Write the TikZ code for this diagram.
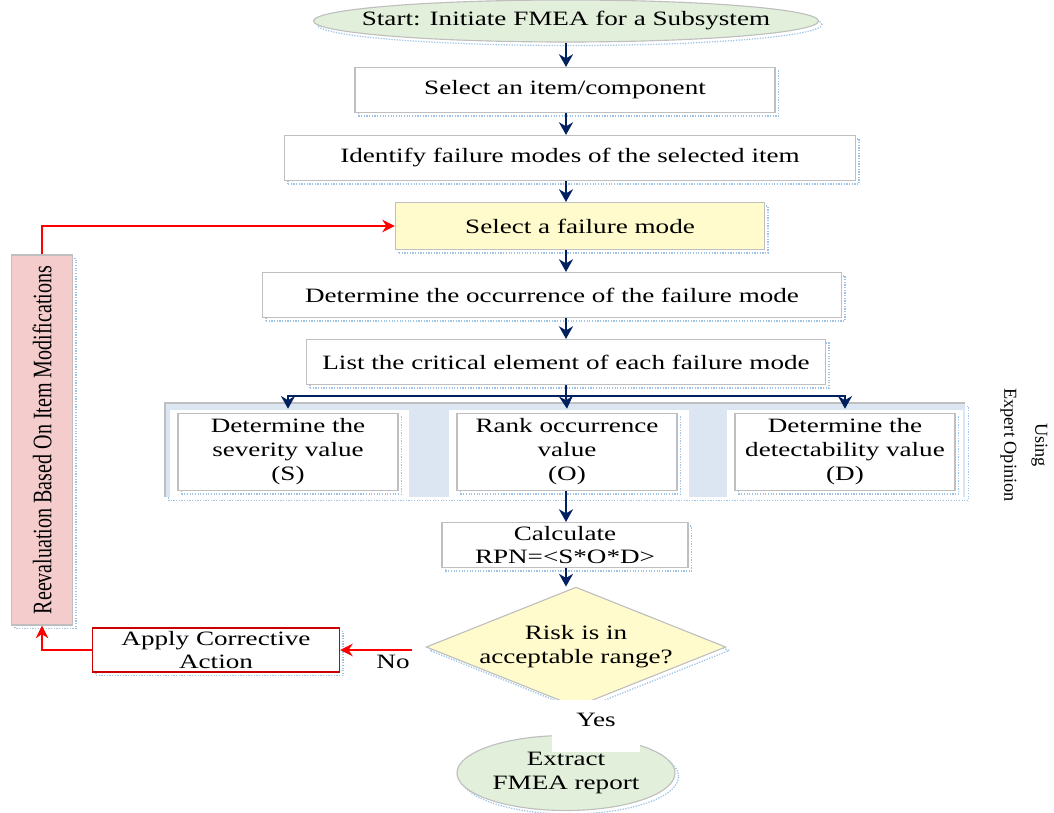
\documentclass[tikz,border=0pt]{standalone}
\usepackage{fontspec}
\setmainfont{Liberation Serif}[FakeStretch=1.33]
\newfontfamily\narrowfont{Liberation Serif}[FakeStretch=0.75]
\newfontfamily\plainfont{Liberation Serif}
\usepackage{tikz}
\usetikzlibrary{shapes.geometric,arrows.meta,shadows}
\definecolor{navyarrow}{HTML}{002060}
\definecolor{boxgray}{HTML}{BFBFBF}
\definecolor{startgreen}{HTML}{E2EFDA}
\definecolor{selyellow}{HTML}{FFFBCC}
\definecolor{reevalpink}{HTML}{F4CCCC}
\definecolor{groupblue}{HTML}{DCE6F2}
\definecolor{dotblue}{HTML}{9DC3E6}
\newcommand{\boxfont}{\fontsize{14.5}{17}\selectfont}
\tikzset{
  dotshadow/.style={general shadow={shadow xshift=2.5pt,shadow yshift=-2.5pt,draw=dotblue,densely dotted,line width=0.9pt}},
  stepbox/.style={draw=boxgray,fill=white,line width=0.8pt,inner sep=0pt,minimum height=1.125cm,align=center,font=\boxfont,dotshadow},
  termbox/.style={stepbox,ellipse,fill=startgreen},
  valuebox/.style={stepbox,minimum width=5.5cm,minimum height=1.925cm},
  decisionbox/.style={stepbox,diamond,aspect=2.5,fill=selyellow,minimum width=7.05cm,minimum height=2.85cm},
  flow/.style={navyarrow,line width=1.4pt,-{Stealth[length=9pt,width=10pt]}},
  loopback/.style={red,line width=1.1pt,-{Stealth[length=9pt,width=9pt]}}
}
\begin{document}
\begin{tikzpicture}[x=0.025cm,y=-0.025cm]
\useasboundingbox (0,0) rectangle (1054,813);
\fill[groupblue,dotshadow] (165,403) rectangle (965,497);
\draw[boxgray,line width=0.8pt] (165,497) -- (165,403) -- (965,403);
\fill[white] (170,410) rectangle (409,497);
\fill[white] (449,410) rectangle (689,497);
\fill[white] (727,410) rectangle (963,497);
\node[termbox,inner xsep=-0.64cm,minimum width=12.55cm,minimum height=1.05cm] (start) at (566,21) {Start: Initiate FMEA for a Subsystem};
\node[stepbox,minimum width=10.5cm] (item) at (565,90) {Select an item/component};
\node[stepbox,minimum width=14.275cm] (ident) at (570,158) {Identify failure modes of the selected item};
\node[stepbox,fill=selyellow,minimum width=9.225cm,minimum height=1.175cm] (selmode) at (580,226) {Select a failure mode};
\node[stepbox,minimum width=14.475cm] (occur) at (552,295) {Determine the occurrence of the failure mode};
\node[stepbox,minimum width=12.975cm] (list) at (566,362) {List the critical element of each failure mode};
\node[valuebox] (sev) at (288,452) {Determine the\\severity value\\(S)};
\node[valuebox] (rank) at (567,452) {Rank occurrence\\value\\(O)};
\node[valuebox] (detect) at (845,452) {Determine the\\detectability value\\(D)};
\node[stepbox,minimum width=6.15cm] (calc) at (565,545) {Calculate\\RPN=<S*O*D>};
\node[decisionbox] (risk) at (576,647) {Risk is in\\acceptable range?};
\node[termbox,minimum width=5.45cm,minimum height=1.875cm] (extract) at (566,773) {Extract\\FMEA report};
\node[fill=white,minimum width=2.2cm,minimum height=1.3cm] (yes) at (596,726) {};
\node[font=\boxfont] (yeslabel) at (596,720) {Yes};
\node[stepbox,draw=red!80!black,minimum width=6.175cm,minimum height=1.1cm] (apply) at (216,650) {Apply Corrective\\Action};
\node[stepbox,fill=reevalpink,minimum width=9.25cm,minimum height=1.525cm,rotate=90,font=\narrowfont\fontsize{19}{22}\selectfont] (reeval) at (42,440) {Reevaluation Based On Item Modifications};
\node[font=\boxfont] (no) at (393,662) {No};
\node[rotate=-90,align=center,font=\plainfont\fontsize{13}{22}\selectfont] (expert) at (1024,445) {Using\\Expert Opinion};
\coordinate (spine) at (566,0);
\coordinate (nostart) at (412,650);
\draw[flow] (spine |- start.south) -- (spine |- item.north);
\draw[flow] (spine |- item.south) -- (spine |- ident.north);
\draw[flow] (spine |- ident.south) -- (spine |- selmode.north);
\draw[flow] (spine |- selmode.south) -- (spine |- occur.north);
\draw[flow] (spine |- occur.south) -- (spine |- list.north);
\draw[navyarrow,line width=1.4pt] (spine |- list.south) -- ++(0,11) coordinate (branch);
\draw[flow] (branch) -| ([yshift=3pt]sev.north);
\draw[flow] (branch) -| ([yshift=3pt]detect.north);
\draw[flow] (branch) -- ([yshift=3pt]rank.north);
\draw[flow] (spine |- rank.south) -- (spine |- calc.north);
\draw[flow] (spine |- calc.south) -- (spine |- risk.north);
\draw[loopback] (nostart) -- (apply);
\draw[loopback] (apply.west) -| (reeval.west);
\draw[loopback] (reeval.east) |- (selmode);
\end{tikzpicture}
\end{document}
